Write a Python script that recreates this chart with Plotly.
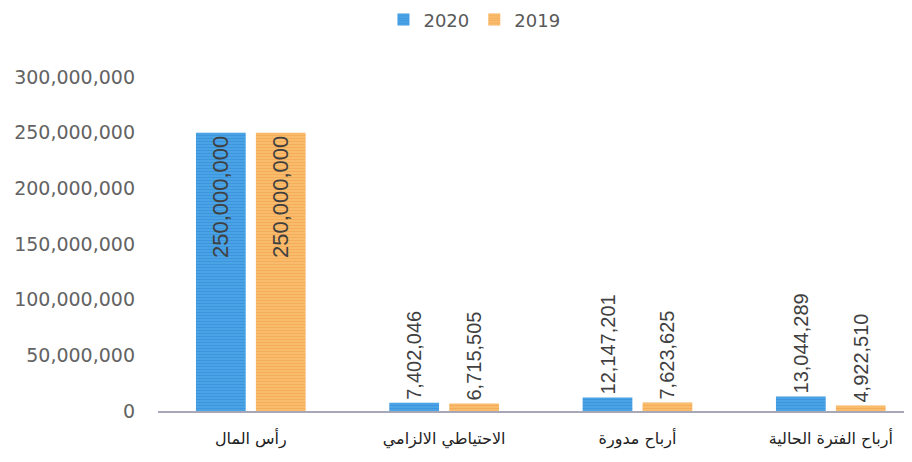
import plotly.graph_objects as go

categories = ["رأس المال", "الاحتياطي الالزامي", "أرباح مدورة", "أرباح الفترة الحالية"]
values_2020 = [250000000, 7402046, 12147201, 13044289]
values_2019 = [250000000, 6715505, 7623625, 4922510]
series_names = ["2020", "2019"]
y_ticks = [0, 50000000, 100000000, 150000000, 200000000, 250000000, 300000000]

positions = ["inside", "outside", "outside", "outside"]
label_sizes = [22, 20, 20, 20]

fig = go.Figure()
styles = [("#4AA3E5", "#2F88D6"), ("#F9BC6C", "#F29E45")]
for name, vals, (bg, fg) in zip(series_names, [values_2020, values_2019], styles):
    fig.add_trace(go.Bar(
        x=categories, y=vals, name=name,
        text=[f"{v:,}" for v in vals],
        textposition=positions,
        insidetextanchor="end",
        textangle=-90,
        constraintext="none",
        textfont=dict(family="Liberation Sans", size=label_sizes, color="#404040"),
        marker=dict(color=bg, line=dict(width=0),
                    pattern=dict(shape="-", fgcolor=fg, bgcolor=bg, size=3, solidity=0.35)),
        cliponaxis=False,
    ))

# page body has an 8px margin, so size the figure to fit the 912x462 window
fig.update_layout(
    width=904, height=454,
    margin=dict(l=150, r=0, t=69, b=51, autoexpand=False),
    paper_bgcolor="white", plot_bgcolor="white",
    barmode="group", bargap=0.38, bargroupgap=0.17,
    legend=dict(orientation="h", x=0.516, xref="container", xanchor="center",
                y=0.974, yref="container", yanchor="middle",
                font=dict(family="DejaVu Sans", size=18, color="#595959"), itemwidth=30,
                traceorder="normal"),
    showlegend=True,
)
fig.update_xaxes(
    range=[-0.48, 3.42], showline=True, linecolor="#A7A7B7", linewidth=2,
    ticks="", showgrid=False, ticklabelstandoff=12,
    tickfont=dict(family="DejaVu Sans", size=16, color="#222222"),
)
fig.update_yaxes(
    range=[0, 300000000], tickvals=y_ticks, tickformat=",",
    showgrid=False, zeroline=False, showline=False, ticks="",
    ticklabelstandoff=22,
    tickfont=dict(family="DejaVu Sans", size=19, color="#636363"),
)
fig.write_html("out.html")
